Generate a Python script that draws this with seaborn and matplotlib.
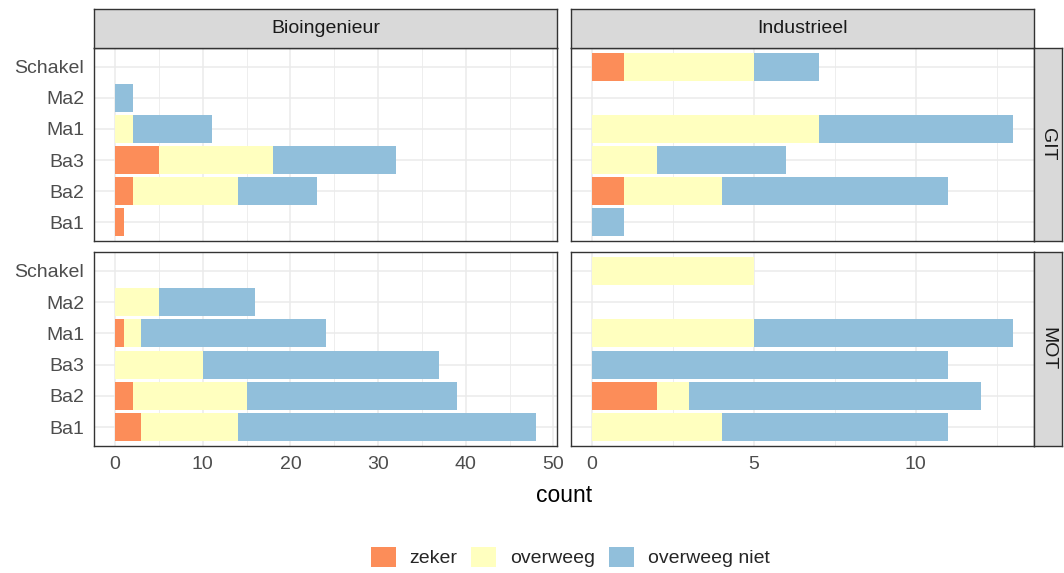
import numpy as np
import pandas as pd
import matplotlib
matplotlib.use("Agg")
import matplotlib.pyplot as plt
import seaborn as sns
from matplotlib.patches import Patch
from matplotlib.ticker import MultipleLocator

# fases, bottom to top
fases = ["Ba1", "Ba2", "Ba3", "Ma1", "Ma2", "Schakel"]
keuzes = ["zeker", "overweeg", "overweeg niet"]
opleidingen = ["Bioingenieur", "Industrieel"]
richtingen = ["GIT", "MOT"]

# counts per fase (Ba1..Schakel)
bio_git_zeker = [1, 2, 5, 0, 0, 0]
bio_git_overweeg = [0, 12, 13, 2, 0, 0]
bio_git_niet = [0, 9, 14, 9, 2, 0]

ind_git_zeker = [0, 1, 0, 0, 0, 1]
ind_git_overweeg = [0, 3, 2, 7, 0, 4]
ind_git_niet = [1, 7, 4, 6, 0, 2]

bio_mot_zeker = [3, 2, 0, 1, 0, 0]
bio_mot_overweeg = [11, 13, 10, 2, 5, 0]
bio_mot_niet = [34, 24, 27, 21, 11, 0]

ind_mot_zeker = [0, 2, 0, 0, 0, 0]
ind_mot_overweeg = [4, 1, 0, 5, 0, 5]
ind_mot_niet = [7, 9, 11, 8, 0, 0]

colors = {"zeker": "#FC8D59", "overweeg": "#FFFFBF", "overweeg niet": "#91BFDB"}

panels = {
    ("Bioingenieur", "GIT"): (bio_git_zeker, bio_git_overweeg, bio_git_niet),
    ("Industrieel", "GIT"): (ind_git_zeker, ind_git_overweeg, ind_git_niet),
    ("Bioingenieur", "MOT"): (bio_mot_zeker, bio_mot_overweeg, bio_mot_niet),
    ("Industrieel", "MOT"): (ind_mot_zeker, ind_mot_overweeg, ind_mot_niet),
}

rows = []
for (opl, ri), vals in panels.items():
    for k, v in zip(keuzes, vals):
        for f, n in zip(fases, v):
            rows.append({"opleiding": opl, "richting": ri, "fase": f, "keuze": k, "count": n})
df = pd.DataFrame(rows)

sns.set_theme(style="white")
plt.rcParams["font.family"] = ["Liberation Sans", "DejaVu Sans"]

W, H = 1064, 573
fig = plt.figure(figsize=(W / 100, H / 100), dpi=100)


def rect(x0, y0, x1, y1):
    return [x0 / W, 1 - y1 / H, (x1 - x0) / W, (y1 - y0) / H]


panel_px = {
    ("Bioingenieur", "GIT"): (94, 48, 557, 241),
    ("Industrieel", "GIT"): (571, 48, 1034, 241),
    ("Bioingenieur", "MOT"): (94, 252, 557, 446),
    ("Industrieel", "MOT"): (571, 252, 1034, 446),
}
xlims = {"Bioingenieur": (-2.4, 50.4), "Industrieel": (-0.65, 13.65)}
xmajor = {"Bioingenieur": 10, "Industrieel": 5}

order = fases[::-1]
tick_col = "#4D4D4D"
border_col = "#333333"
fs = 14

for (opl, ri), px in panel_px.items():
    ax = fig.add_axes(rect(*px))
    sub = df[(df.opleiding == opl) & (df.richting == ri)]
    wide = sub.pivot(index="fase", columns="keuze", values="count")[keuzes]
    cum = wide.cumsum(axis=1).reset_index()
    # draw the stacks back to front: total, then zeker+overweeg, then zeker
    for k in keuzes[::-1]:
        sns.barplot(data=cum, x=k, y="fase", order=order, orient="h",
                    color=colors[k], saturation=1, width=0.9,
                    edgecolor="none", errorbar=None, ax=ax)
    ax.set_xlim(*xlims[opl])
    ax.set_ylim(len(fases) - 1 + 0.6, -0.6)
    ax.xaxis.set_major_locator(MultipleLocator(xmajor[opl]))
    ax.xaxis.set_minor_locator(MultipleLocator(xmajor[opl] / 2))
    ax.set_axisbelow(True)
    ax.grid(True, which="major", color="#EBEBEB", lw=1.1)
    ax.xaxis.grid(True, which="minor", color="#EBEBEB", lw=0.6)
    ax.yaxis.grid(True, which="major", color="#EBEBEB", lw=1.1)
    for s in ax.spines.values():
        s.set_color(border_col)
        s.set_linewidth(1.0)
    ax.set_xlabel("")
    ax.set_ylabel("")
    ax.tick_params(axis="both", which="major", length=4, width=0.9, color=border_col,
                   labelsize=fs, labelcolor=tick_col, pad=3)
    ax.tick_params(axis="x", which="minor", length=0)
    if opl == "Industrieel":
        ax.tick_params(axis="y", left=False, labelleft=False)
    if ri == "GIT":
        ax.tick_params(axis="x", bottom=False, labelbottom=False)

# strips
strip_col = "#D9D9D9"
for opl, (x0, x1) in zip(opleidingen, [(94, 557), (571, 1034)]):
    sax = fig.add_axes(rect(x0, 9, x1, 48))
    sax.set_facecolor(strip_col)
    sax.set_xticks([])
    sax.set_yticks([])
    for s in sax.spines.values():
        s.set_color(border_col)
        s.set_linewidth(1.0)
    sax.text(0.5, 0.5, opl, ha="center", va="center", fontsize=fs,
             color="#1A1A1A", transform=sax.transAxes)
for ri, (y0, y1) in zip(richtingen, [(48, 241), (252, 446)]):
    sax = fig.add_axes(rect(1034, y0, 1062, y1))
    sax.set_facecolor(strip_col)
    sax.set_xticks([])
    sax.set_yticks([])
    for s in sax.spines.values():
        s.set_color(border_col)
        s.set_linewidth(1.0)
    sax.text(0.5, 0.5, ri, ha="center", va="center", fontsize=fs, rotation=-90,
             color="#1A1A1A", transform=sax.transAxes)

fig.text(564 / W, 1 - 496 / H, "count", ha="center", va="center", fontsize=16.5, color="black")

handles = [Patch(facecolor=colors[k], edgecolor="none", label=k) for k in keuzes]
fig.legend(handles=handles, loc="center", bbox_to_anchor=(570 / W, 1 - 557 / H),
           ncol=3, frameon=False, fontsize=fs, handlelength=1.3, handleheight=1.2,
           handletextpad=0.7, columnspacing=0.7)

fig.savefig("out.png", dpi=100)
